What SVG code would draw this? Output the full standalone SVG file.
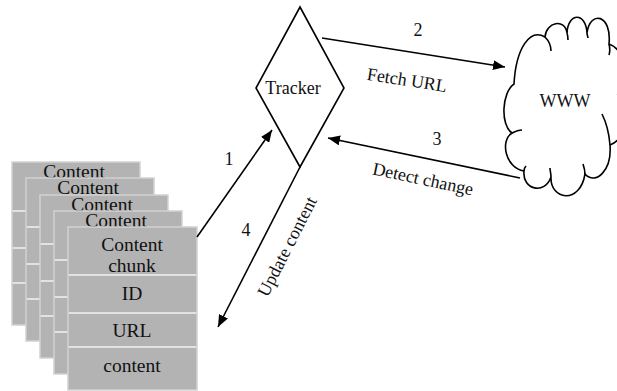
<svg xmlns="http://www.w3.org/2000/svg" width="617" height="391" viewBox="0 0 617 391">
  <style>
    .card { fill: #b3b3b3; stroke: #d2d2d2; stroke-width: 1.5; }
    .div { stroke: #f2f2f2; stroke-width: 1.5; }
    .t { font-family: "Liberation Serif", "Times New Roman", serif; fill: #111; }
    .ct { font-size: 19.5px; text-anchor: middle; }
    .lb { font-size: 18px; }
    .mid { text-anchor: middle; }
    .ln { fill: none; stroke: #000; stroke-width: 1.6; }
  </style>
  <defs>
    <marker id="ah" viewBox="0 0 12 10" refX="12" refY="5" markerWidth="12" markerHeight="10" markerUnits="userSpaceOnUse" orient="auto">
      <path d="M0,0 L12,5 L0,10 z" fill="#000"/>
    </marker>
    <g id="backCard">
      <rect class="card" x="0" y="0" width="128" height="163"/>
      <line class="div" x1="0.75" y1="49" x2="127.25" y2="49"/>
      <line class="div" x1="0.75" y1="86" x2="127.25" y2="86"/>
      <line class="div" x1="0.75" y1="121" x2="127.25" y2="121"/>
      <text class="t ct" x="62" y="16">Content</text>
    </g>
  </defs>

  <!-- stacked content chunks -->
  <g id="chunks">
    <use href="#backCard" x="12" y="162"/>
    <use href="#backCard" x="26" y="178"/>
    <use href="#backCard" x="40" y="195"/>
    <use href="#backCard" x="54" y="211"/>
    <g id="chunk-front">
      <rect class="card" x="68" y="227" width="129" height="163"/>
      <line class="div" x1="68.75" y1="275" x2="196.25" y2="275"/>
      <line class="div" x1="68.75" y1="313" x2="196.25" y2="313"/>
      <line class="div" x1="68.75" y1="347" x2="196.25" y2="347"/>
      <text class="t ct" x="132" y="251">Content</text>
      <text class="t ct" x="132" y="272">chunk</text>
      <text class="t ct" x="132" y="300">ID</text>
      <text class="t ct" x="132" y="337">URL</text>
      <text class="t ct" x="132" y="372">content</text>
    </g>
  </g>

  <!-- tracker -->
  <g id="tracker">
    <polygon class="ln" points="300,7 344,88 300,167 256,88"/>
    <text class="t lb mid" x="293" y="94">Tracker</text>
  </g>

  <!-- web cloud -->
  <g id="www">
    <path class="ln" d="M514,84 C516,48 530,28 545,37 C546,22 565,18 567,33 C568,12 586,12 587,33 C590,10 612,14 609,44 C628,50 632,90 618,95 C632,110 626,140 610,145 C612,170 596,186 585,174 C580,205 550,200 551,177 C545,195 522,190 524,171 C505,168 500,140 512,133 C500,125 502,92 514,84 Z"/>
    <path class="ln" d="M545,37 C549,41 551,46 551,51 M567,33 C568,36 568,38 568,40 M587,33 C587,35 588,37 588,38 M609,44 C610,48 610,52 609,55 M610,145 C609,132 606,122 602,114 M585,174 C585,170 584,167 583,164 M551,177 C551,173 550,171 550,168 M512,133 C516,131 519,130 522,130 M524,171 C524,169 525,167 526,166"/>
    <text class="t lb mid" x="565" y="107">WWW</text>
  </g>

  <!-- connectors -->
  <g id="connectors">
    <line class="ln" x1="197" y1="237" x2="272" y2="130" marker-end="url(#ah)"/>
    <line class="ln" x1="322" y1="38" x2="505" y2="67" marker-end="url(#ah)"/>
    <line class="ln" x1="520" y1="178" x2="328" y2="138" marker-end="url(#ah)"/>
    <line class="ln" x1="300" y1="167" x2="218" y2="327" marker-end="url(#ah)"/>
    <text class="t lb mid" x="229" y="165">1</text>
    <text class="t lb mid" x="418" y="36">2</text>
    <text class="t lb mid" x="437" y="145">3</text>
    <text class="t lb mid" x="246" y="236">4</text>
    <text class="t lb mid" transform="translate(407,80) rotate(9)" y="6">Fetch URL</text>
    <text class="t lb mid" transform="translate(423,179) rotate(12)" y="6">Detect change</text>
    <text class="t lb mid" transform="translate(288,247) rotate(-63)" y="5">Update content</text>
  </g>
</svg>
